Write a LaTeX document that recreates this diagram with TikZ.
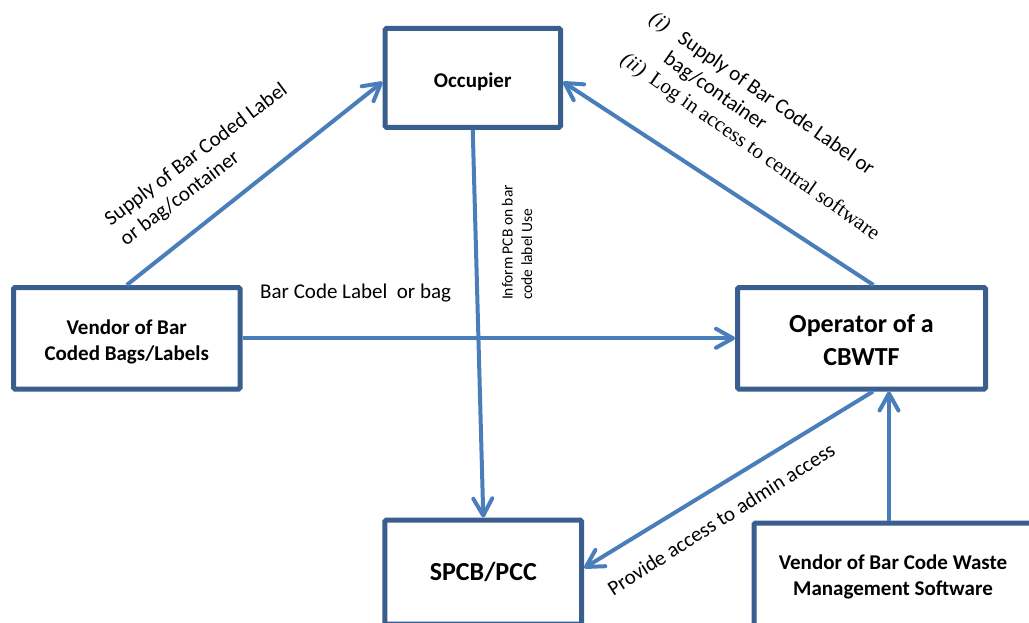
\documentclass[tikz,border=0pt]{standalone}
\usepackage{fontspec}
\setmainfont{Carlito}
\newfontfamily\tnr{Liberation Serif}
\usetikzlibrary{arrows.meta}
\definecolor{boxc}{HTML}{3A5F8F}
\definecolor{arrc}{HTML}{4A7EBB}
\tikzset{
 box/.style={draw=boxc, line width=5pt, rounded corners=1.5pt, fill=white, inner sep=0pt},
 btxt/.style={inner sep=0pt, align=center, font=\fontsize{21}{26}\selectfont\bfseries},
 bigtxt/.style={btxt, font=\fontsize{26}{33}\selectfont\bfseries},
 arr/.style={draw=arrc, line width=4pt, -{Straight Barb[length=17pt,width=19pt,round]}},
 lbl/.style={inner sep=0pt, font=\fontsize{21}{25}\selectfont, align=left},
}
\begin{document}
\begin{tikzpicture}[x=1pt,y=-1pt]
\useasboundingbox (0,0) rectangle (1029,622);
\clip (0,0) rectangle (1029,622);
\fill[white] (0,0) rectangle (1029,622);
% boxes
\node[box, minimum width=175.5pt, minimum height=99pt] (occ) at (472.75,77.9) {};
\node[box, minimum width=226.5pt, minimum height=101.5pt] (vb) at (126.75,338.25) {};
\node[box, minimum width=248pt, minimum height=101.5pt] (op) at (861.5,338.25) {};
\node[box, minimum width=196.7pt, minimum height=104pt] (sp) at (483.3,572) {};
\node[box, minimum width=278pt, minimum height=105pt] (sw) at (893,575.5) {};
% box texts
\node[btxt] (occt) at (472.75,82) {Occupier};
\node[btxt] (vbt) at (126.75,341.5) {Vendor of Bar\\Coded Bags/Labels};
\node[bigtxt] (opt) at (861.5,340.5) {Operator of a\\CBWTF};
\node[bigtxt] (spt) at (483.3,572) {SPCB/PCC};
\node[btxt] (swt) at (893,577) {Vendor of Bar Code Waste\\Management Software};
% connectors
\draw[arr] (vb.north) -- ([yshift=-4pt]occ.west);
\draw[arr] ([xshift=12pt]op.north) -- ([yshift=-4pt]occ.east);
\draw[arr] (occ.south) -- (sp.north);
\draw[arr] (vb.east) -- (op.west);
\draw[arr] ([xshift=11.5pt]op.south) -- ([yshift=4pt]sp.east);
\draw[arr] ([xshift=-4pt]sw.north) -- ([xshift=-4pt]sw.north |- op.south);
% labels
\node[lbl, rotate=37] (l1) at (204,165) {Supply of Bar Coded Label\\or bag/container};
\node[lbl, anchor=base west] (l2) at (260,298) {Bar Code Label\ \ or bag};
\node[lbl, rotate=90, font=\fontsize{15.5}{19.5}\selectfont] (l3) at (517,242.5) {Inform PCB on bar\\code label Use};
\node[lbl, rotate=32.5] (l4) at (721,519) {Provide access to admin access};
\node[lbl, rotate=-35] (l5) at (764,127) {\begin{tabular}{@{}l@{\hspace{9pt}}l@{}}{\tnr\itshape (i)} & Supply of Bar Code Label or\\ & bag/container\\ {\tnr\itshape (ii)} & {\tnr Log in access to central software}\end{tabular}};
\end{tikzpicture}
\end{document}
